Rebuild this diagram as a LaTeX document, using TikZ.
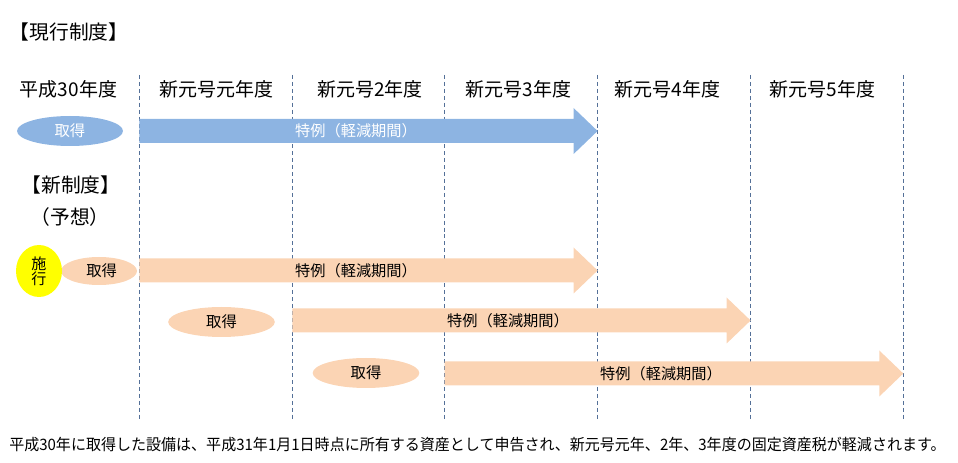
\documentclass[tikz,border=0pt]{standalone}
\usepackage{fontspec}
\setmainfont{Noto Sans CJK JP}
\usetikzlibrary{shapes.geometric}
\definecolor{barblue}{RGB}{141,180,226}
\definecolor{barpeach}{RGB}{251,212,180}
\definecolor{dashcol}{RGB}{84,112,152}
\definecolor{yel}{RGB}{255,255,0}
\tikzset{
  gridline/.style={draw=dashcol, line width=0.6pt, dash pattern=on 3pt off 2.2pt},
  head/.style={font=\fontsize{14.25}{16}\selectfont, inner sep=0pt},
  title/.style={font=\fontsize{14.8}{17}\selectfont, inner sep=0pt},
  bartext/.style={font=\fontsize{11.4}{13}\selectfont, inner sep=0pt},
  getblue/.style={ellipse, fill=barblue, minimum width=79.5pt, minimum height=22.5pt, inner sep=0pt, text=white, font=\fontsize{11.5}{13}\selectfont},
  getpeach/.style={ellipse, fill=barpeach, minimum width=80pt, minimum height=22.5pt, inner sep=0pt, font=\fontsize{11.5}{13}\selectfont},
  enforce/.style={ellipse, fill=yel, minimum width=34.5pt, minimum height=39pt, inner sep=0pt, align=center, font=\fontsize{11.3}{12.5}\selectfont},
}
% #1 start x, #2 tip x, #3 centre y, #4 colour
\newcommand\tokureibar[4]{%
  \fill[#4] (#1,#3-12) -- (#2-24,#3-12) -- (#2-24,#3-23) -- (#2,#3)
    -- (#2-24,#3+23) -- (#2-24,#3+12) -- (#1,#3+12) -- cycle;}
\begin{document}
\begin{tikzpicture}[x=0.75pt, y=-0.75pt]
\useasboundingbox (0,0) rectangle (958,463);
% grid lines
\foreach \gx [count=\i] in {139.3,292.3,444.7,597.6,750.6,903.3}
  \draw[gridline] (\gx,75) coordinate (g\i top) -- (\gx,420) coordinate (g\i bot);
% titles
\node[title] (t1) at (69,32) {【現行制度】};
\node[title] (t2) at (71,185) {【新制度】};
\node[title] (t3) at (70,217) {（予想）};
% headers
\node[head] (h0) at (68.5,89) {平成30年度};
\node[head] (h1) at (216.5,89) {新元号元年度};
\node[head] (h2) at (370,89) {新元号2年度};
\node[head] (h3) at (518.5,89) {新元号3年度};
\node[head] (h4) at (667.5,89) {新元号4年度};
\node[head] (h5) at (822.5,89) {新元号5年度};
% current system
\node[getblue] (e0) at (70,131) {取得};
\tokureibar{139.3}{597.6}{131}{barblue}
\node[bartext, text=white] (b0) at (356,131) {特例（軽減期間）};
% new system row 1
\node[getpeach, minimum width=57pt, minimum height=21pt] (e1) at (99,271) {\hspace*{4pt}取得};
\node[enforce] (y1) at (39,271) {施\\[-1pt]行};
\tokureibar{139.3}{597.6}{270.5}{barpeach}
\node[bartext] (b1) at (356,270.5) {特例（軽減期間）};
% row 2
\node[getpeach] (e2) at (221.5,322) {取得};
\tokureibar{292.3}{750.6}{320.5}{barpeach}
\node[bartext] (b2) at (508,320.5) {特例（軽減期間）};
% row 3
\node[getpeach] (e3) at (366,373) {取得};
\tokureibar{444.7}{903.3}{373.5}{barpeach}
\node[bartext] (b3) at (661,373.5) {特例（軽減期間）};
% footer
\node[anchor=west, inner sep=0pt, font=\fontsize{11.8}{14}\selectfont] (foot) at (9,445)
  {\scalebox{0.955}[1]{平成30年に取得した設備は、平成31年1月1日時点に所有する資産として申告され、新元号元年、2年、3年度の固定資産税が軽減されます。}};
\end{tikzpicture}
\end{document}
